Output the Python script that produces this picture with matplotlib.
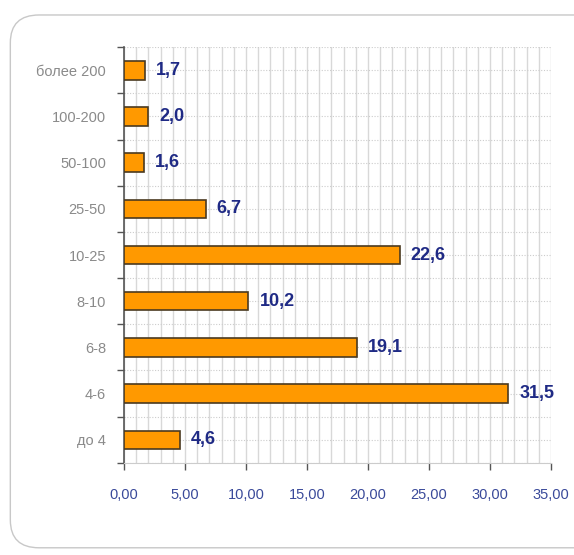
import numpy as np
import matplotlib.pyplot as plt
from matplotlib.patches import FancyBboxPatch
from matplotlib.ticker import MultipleLocator, FuncFormatter

plt.rcParams['font.family'] = ['Liberation Sans', 'DejaVu Sans']

# категории сверху вниз
categories = ['более 200', '100-200', '50-100', '25-50', '10-25',
              '8-10', '6-8', '4-6', 'до 4']
values = [1.7, 2.0, 1.6, 6.7, 22.6, 10.2, 19.1, 31.5, 4.6]
value_labels = ['1,7', '2,0', '1,6', '6,7', '22,6', '10,2', '19,1', '31,5', '4,6']

fig = plt.figure(figsize=(5.74, 5.55), dpi=100)

# рамка со скруглёнными углами
frame = FancyBboxPatch((0.018, 0.013), 1.05, 0.96,
                       boxstyle='round,pad=0,rounding_size=0.05',
                       transform=fig.transFigure, facecolor='white',
                       edgecolor='#c8c8c8', lw=1.0, zorder=-10)
fig.patches.append(frame)

ax = fig.add_axes([0.216, 0.166, 0.744, 0.749])
ax.set_facecolor('none')

y = np.arange(len(categories))
ax.barh(y, values, height=0.4, color='#FF9900', edgecolor='#4a3a20',
        linewidth=1.2, zorder=3)

for yi, v, lab in zip(y, values, value_labels):
    ax.annotate(lab, (v, yi), xytext=(8, 0), textcoords='offset points',
                va='center', ha='left', fontsize=13, fontweight='bold',
                color='#1f2a85', zorder=4)

ax.set_xlim(0, 35)
ax.set_ylim(len(categories) - 0.5, -0.5)
ax.set_yticks(y)
ax.set_yticklabels(categories)
ax.xaxis.set_major_locator(MultipleLocator(5))
ax.xaxis.set_minor_locator(MultipleLocator(1))
ax.xaxis.set_major_formatter(FuncFormatter(lambda v, p: f'{v:.2f}'.replace('.', ',')))
# метки делений на границах категорий
ax.yaxis.set_minor_locator(plt.FixedLocator(np.arange(-0.5, len(categories), 1.0)))

# сетка
ax.grid(True, axis='x', which='both', color='#d8d8d8', lw=1.0, zorder=0)
ax.grid(True, axis='y', which='both', color='#cccccc', lw=0.8,
        ls=(0, (1, 1.5)), zorder=0)

for s in ['top', 'right']:
    ax.spines[s].set_visible(False)
ax.spines['left'].set_color('#555555')
ax.spines['left'].set_linewidth(1.2)
ax.spines['bottom'].set_color('#cccccc')

ax.tick_params(axis='y', which='major', length=0, pad=13,
               labelsize=10.5, labelcolor='#8a8a8a')
ax.tick_params(axis='y', which='minor', length=5, color='#555555', width=1)
ax.tick_params(axis='x', which='major', length=5, color='#555555', width=1,
               pad=13, labelsize=10.5, labelcolor='#3a4a9a')
ax.tick_params(axis='x', which='minor', length=0)

fig.savefig('out.png', dpi=100)
